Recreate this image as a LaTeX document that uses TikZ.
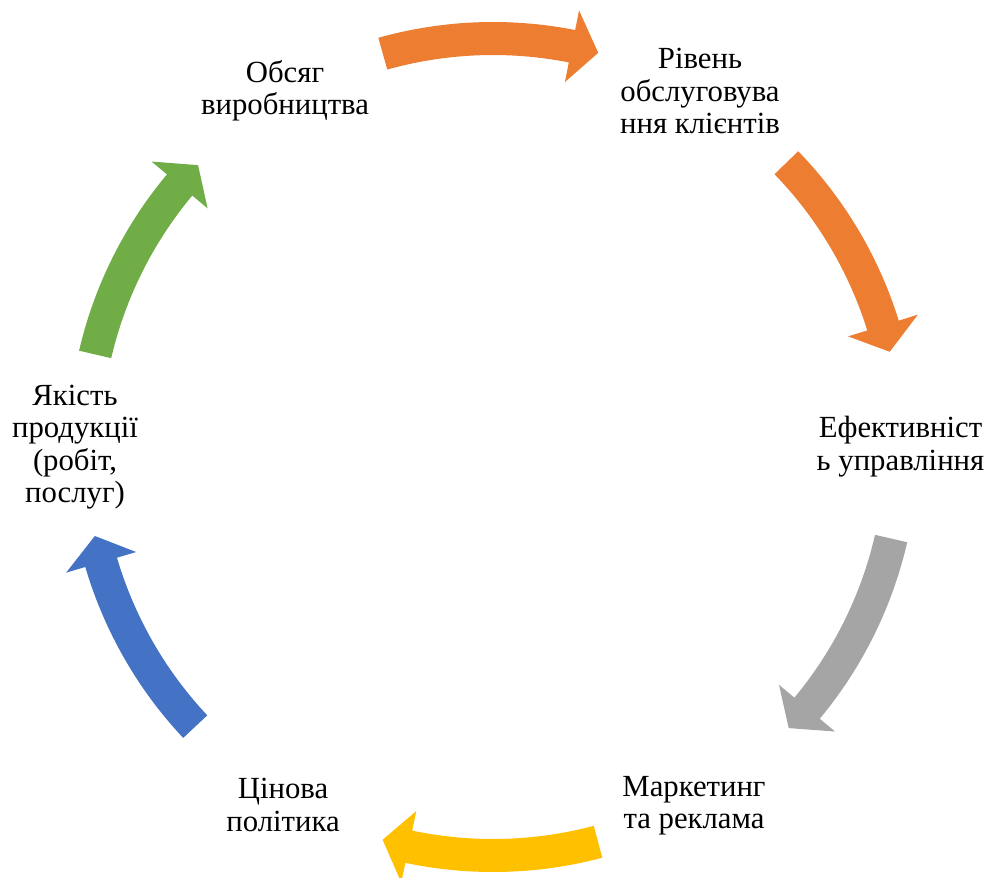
\documentclass[tikz,border=0pt]{standalone}
\usepackage{fontspec}
\setmainfont{Liberation Serif}
\definecolor{cycorange}{HTML}{ED7D31}
\definecolor{cycgray}{HTML}{A5A5A5}
\definecolor{cycyellow}{HTML}{FFC000}
\definecolor{cycblue}{HTML}{4472C4}
\definecolor{cycgreen}{HTML}{70AD47}
% curved block arrow around the centre: #1 = middle angle, #2 = colour
\newcommand{\cyclearrow}[2]{%
  \fill[#2] ({#1+15.3}:392) arc[start angle={#1+15.3}, end angle={#1-11.5}, radius=392]
    -- ({#1-11.5}:372) -- ({#1-15.3}:408) -- ({#1-11.5}:445) -- ({#1-11.5}:425)
    arc[start angle={#1-11.5}, end angle={#1+15.3}, radius=425] -- cycle;}

\begin{document}
\begin{tikzpicture}[x=0.02cm, y=0.02cm,
  stage/.style={align=center, inner sep=0pt, font=\fontsize{17.5}{18.4}\selectfont}]
	\useasboundingbox (0,0) rectangle (996,877);
	\begin{scope}[shift={(493,430)}]
	\cyclearrow{90.35}{cycorange}
	\cyclearrow{28.8}{cycorange}
	\cyclearrow{-28.25}{cycgray}
	\cyclearrow{-90.4}{cycyellow}
	\cyclearrow{207.9}{cycblue}
	\cyclearrow{151.6}{cycgreen}
	\end{scope}
	\node[stage] (volume) at (285,786) {Обсяг\\виробництва};
	\node[stage] (service) at (700,785.7) {Рівень\\обслуговува\\ння клієнтів};
	\node[stage] (efficiency) at (900.5,430.4) {Ефективніст\\ь управління};
	\node[stage] (marketing) at (694,71.5) {Маркетинг\\та реклама};
	\node[stage] (pricing) at (283,72) {Цінова\\політика};
	\node[stage] (quality) at (75,429.8) {Якість\\продукції\\(робіт,\\послуг)};
\end{tikzpicture}
\end{document}
